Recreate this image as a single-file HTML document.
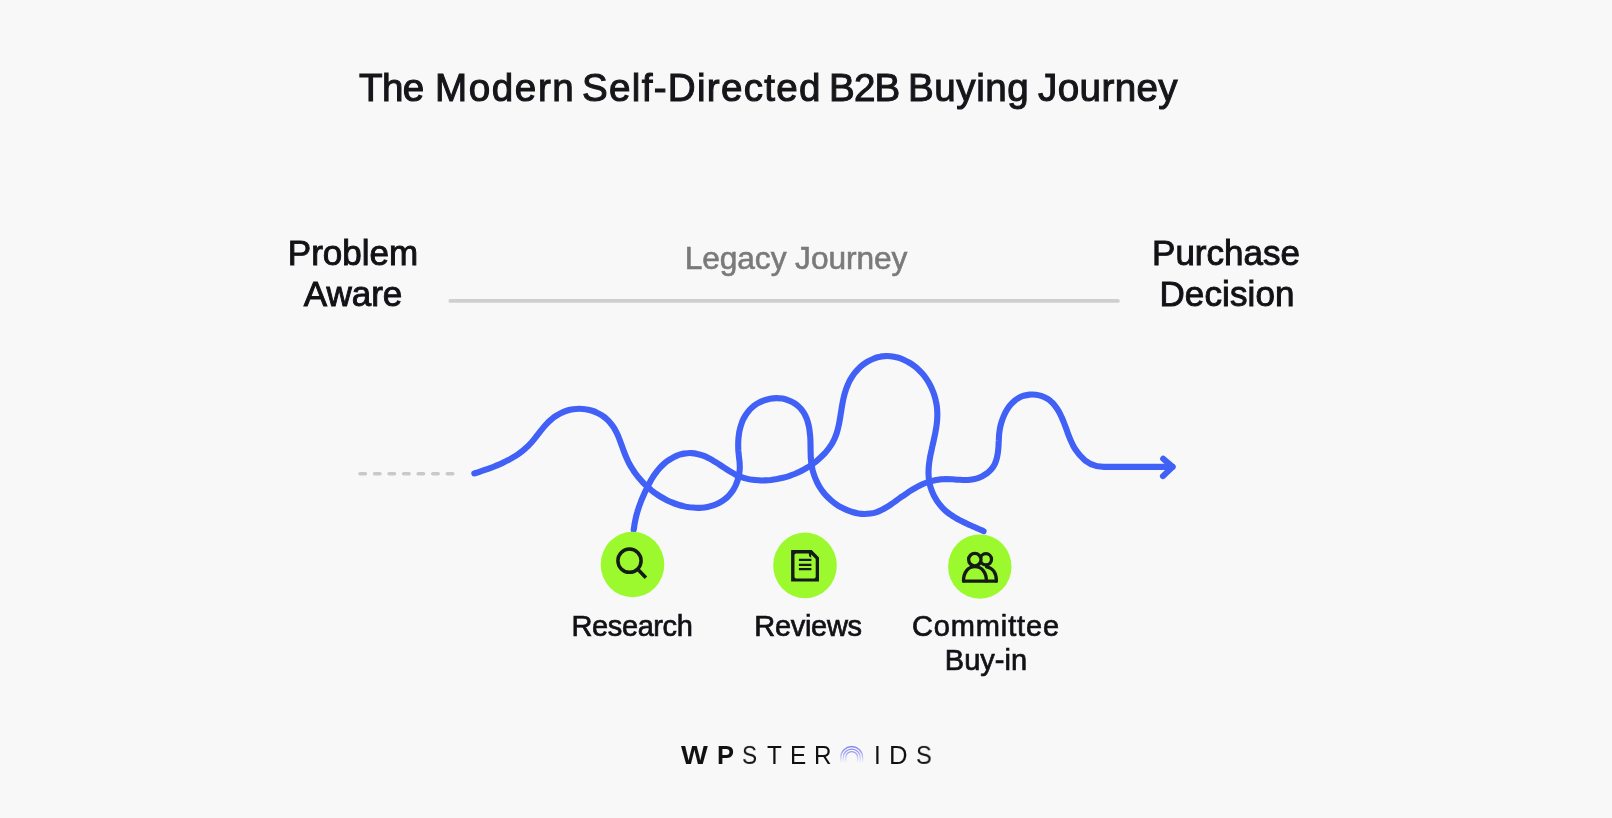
<!DOCTYPE html>
<html><head><meta charset="utf-8"><title>The Modern Self-Directed B2B Buying Journey</title>
<style>
*{margin:0;padding:0;box-sizing:border-box}
html,body{width:1612px;height:818px;overflow:hidden;background:#f8f8f9}
body{position:relative;font-family:"Liberation Sans",sans-serif;color:#121216}
.t{position:absolute;white-space:nowrap;line-height:1;will-change:transform}
.c{text-align:center;transform:translateX(-50%)}
.tw{top:69px;font-size:38.6px;-webkit-text-stroke:1.05px #15151a;color:#15151a}
.big{font-size:35px;-webkit-text-stroke:0.95px #121216}
.lab{font-size:29px;-webkit-text-stroke:0.7px #121216}
#legacy{font-size:31.7px;color:#7a7a7a;-webkit-text-stroke:0.6px #7a7a7a}
svg{position:absolute;left:0;top:0}
.lg{position:absolute;top:742.7px;font-size:24.3px;line-height:1;white-space:nowrap;transform-origin:0 0;color:#111;will-change:transform}
</style></head><body>
<div class="t tw" style="left:359.4px;letter-spacing:-0.60px">The</div>
<div class="t tw" style="left:434.6px;letter-spacing:1.60px">Modern</div>
<div class="t tw" style="left:581.8px;letter-spacing:1.30px">Self-Directed</div>
<div class="t tw" style="left:828.8px;letter-spacing:-0.80px">B2B</div>
<div class="t tw" style="left:908.2px;letter-spacing:0.56px">Buying</div>
<div class="t tw" style="left:1038.2px;letter-spacing:0.40px">Journey</div>


<div class="t c big" style="left:352.5px;top:234.5px">Problem</div>
<div class="t c big" style="left:353.2px;top:276.3px">Aware</div>
<div class="t c big" style="left:1225.6px;top:234.5px">Purchase</div>
<div class="t c big" style="left:1227.4px;top:276.3px;letter-spacing:0.12px">Decision</div>
<div class="t c" id="legacy" style="left:795.6px;top:243.2px;letter-spacing:-0.08px">Legacy Journey</div>

<svg width="1612" height="818" viewBox="0 0 1612 818" fill="none">
 <line x1="450.4" y1="300.9" x2="1117.8" y2="300.9" stroke="#cfcfcf" stroke-width="3.9" stroke-linecap="round"/>
 <line x1="360" y1="473.7" x2="456" y2="473.7" stroke="#c9c9c9" stroke-width="3.6" stroke-linecap="round" stroke-dasharray="5.4 9.15"/>
 <g stroke="#4060f6" stroke-width="6.1" stroke-linecap="round" stroke-linejoin="round">
  <path d="M633.7 529.9C633.9 528.9 634.3 525.8 634.6 523.8C635.0 521.8 635.4 519.8 635.8 517.8C636.3 515.8 636.8 513.9 637.4 511.9C637.9 510.0 638.6 508.1 639.2 506.2C639.9 504.3 640.6 502.4 641.3 500.5C642.1 498.6 642.9 496.7 643.7 494.9C644.5 493.0 645.4 491.1 646.3 489.3C647.2 487.4 648.1 485.6 649.1 483.8C650.1 482.0 651.0 480.1 652.1 478.4C653.2 476.6 654.3 474.9 655.6 473.2C656.8 471.5 658.1 469.9 659.5 468.3C660.8 466.8 662.3 465.3 663.9 463.9C665.4 462.6 667.1 461.3 668.8 460.1C670.5 459.0 672.3 457.9 674.1 457.0C675.9 456.1 677.7 455.3 679.6 454.7C681.5 454.1 683.5 453.6 685.4 453.4C687.4 453.1 689.4 453.0 691.4 453.1C693.4 453.2 695.4 453.5 697.3 454.0C699.3 454.4 701.3 455.0 703.2 455.7C705.1 456.4 707.0 457.3 708.8 458.2C710.6 459.2 712.4 460.2 714.2 461.3C716.0 462.3 717.7 463.5 719.5 464.6C721.2 465.7 722.9 466.9 724.7 468.0C726.4 469.2 728.1 470.3 729.9 471.4C731.7 472.4 733.4 473.4 735.2 474.4C737.1 475.3 738.9 476.1 740.8 476.8C742.7 477.5 744.6 478.1 746.6 478.6C748.5 479.1 750.5 479.5 752.6 479.8C754.6 480.1 756.6 480.2 758.6 480.3C760.7 480.5 762.7 480.5 764.8 480.4C766.8 480.3 768.9 480.2 770.9 480.0C773.0 479.7 775.0 479.4 777.0 479.1C779.0 478.7 781.0 478.3 783.0 477.8C785.0 477.3 787.0 476.7 788.9 476.1C790.8 475.4 792.8 474.7 794.6 474.0C796.5 473.2 798.4 472.4 800.2 471.5C802.1 470.5 803.9 469.6 805.6 468.5C807.4 467.5 809.2 466.4 810.9 465.3C812.6 464.1 814.2 462.9 815.9 461.6C817.5 460.3 819.0 459.0 820.5 457.6C822.0 456.2 823.5 454.7 824.9 453.2C826.2 451.7 827.5 450.1 828.7 448.5C829.9 446.9 831.1 445.2 832.1 443.5C833.1 441.7 834.0 440.0 834.8 438.1C835.6 436.3 836.3 434.4 836.9 432.5C837.5 430.6 838.0 428.7 838.4 426.7C838.9 424.8 839.3 422.8 839.6 420.7C840.0 418.7 840.3 416.7 840.6 414.7C841.0 412.6 841.3 410.6 841.6 408.5C841.9 406.5 842.3 404.4 842.7 402.4C843.0 400.3 843.5 398.3 844.0 396.3C844.5 394.3 845.0 392.3 845.7 390.4C846.3 388.4 847.0 386.5 847.9 384.6C848.7 382.7 849.6 380.9 850.6 379.1C851.6 377.4 852.7 375.7 853.9 374.0C855.1 372.4 856.5 370.8 857.9 369.3C859.3 367.9 860.8 366.5 862.4 365.2C864.0 363.9 865.7 362.8 867.5 361.7C869.2 360.7 871.0 359.7 872.9 359.0C874.8 358.2 876.7 357.5 878.6 357.1C880.6 356.6 882.6 356.2 884.6 356.1C886.6 355.9 888.6 356.0 890.6 356.2C892.6 356.4 894.7 356.7 896.6 357.3C898.6 357.8 900.6 358.4 902.5 359.2C904.5 360.0 906.3 360.9 908.1 362.0C909.9 363.0 911.7 364.1 913.3 365.3C915.0 366.5 916.6 367.8 918.1 369.2C919.6 370.6 921.0 372.1 922.3 373.6C923.6 375.1 924.9 376.7 926.1 378.4C927.2 380.1 928.3 381.8 929.3 383.6C930.3 385.3 931.2 387.2 932.0 389.1C932.8 390.9 933.6 392.8 934.2 394.8C934.8 396.7 935.4 398.7 935.8 400.7C936.3 402.7 936.6 404.7 936.9 406.7C937.1 408.7 937.3 410.8 937.3 412.8C937.4 414.8 937.3 416.9 937.2 418.9C937.1 421.0 936.9 423.0 936.6 425.0C936.4 427.1 936.0 429.1 935.6 431.1C935.3 433.2 934.8 435.2 934.4 437.2C934.0 439.2 933.5 441.3 933.1 443.3C932.6 445.3 932.1 447.3 931.7 449.4C931.2 451.4 930.8 453.4 930.4 455.4C930.0 457.4 929.7 459.4 929.4 461.4C929.1 463.4 928.9 465.4 928.7 467.4C928.6 469.4 928.5 471.4 928.5 473.4C928.6 475.3 928.7 477.3 928.9 479.3C929.2 481.3 929.5 483.2 930.0 485.2C930.5 487.1 931.1 489.1 931.9 491.0C932.6 492.9 933.5 494.8 934.4 496.6C935.4 498.4 936.5 500.2 937.7 501.9C938.8 503.6 940.1 505.2 941.5 506.7C942.9 508.3 944.3 509.7 945.9 511.1C947.4 512.4 949.1 513.7 950.8 514.8C952.4 516.0 954.2 517.1 956.0 518.1C957.8 519.2 959.6 520.1 961.4 521.1C963.3 522.0 965.1 522.9 967.0 523.7C968.8 524.6 970.7 525.4 972.6 526.3C974.5 527.1 976.3 527.9 978.2 528.7C980.0 529.5 982.7 530.8 983.6 531.2"/>
  <path d="M474.3 473.4C475.3 473.1 478.1 472.3 480.0 471.6C481.9 471.0 483.8 470.4 485.7 469.7C487.6 469.1 489.5 468.4 491.4 467.7C493.3 466.9 495.2 466.2 497.0 465.4C498.9 464.6 500.8 463.8 502.6 462.9C504.4 462.1 506.3 461.2 508.0 460.2C509.8 459.3 511.6 458.3 513.3 457.2C515.0 456.2 516.7 455.1 518.4 453.9C520.0 452.8 521.6 451.6 523.2 450.3C524.7 449.1 526.2 447.8 527.6 446.4C529.1 445.0 530.4 443.6 531.8 442.1C533.1 440.6 534.3 439.0 535.6 437.4C536.8 435.8 538.0 434.2 539.3 432.6C540.5 431.0 541.8 429.4 543.1 427.8C544.4 426.2 545.7 424.7 547.1 423.3C548.5 421.8 550.0 420.4 551.6 419.2C553.1 417.9 554.7 416.7 556.4 415.6C558.1 414.5 559.9 413.5 561.7 412.7C563.5 411.8 565.4 411.1 567.3 410.5C569.2 409.9 571.2 409.5 573.2 409.2C575.2 409.0 577.3 408.8 579.3 408.8C581.3 408.8 583.4 409.0 585.4 409.3C587.4 409.5 589.4 410.0 591.3 410.5C593.3 411.1 595.2 411.8 597.0 412.7C598.8 413.5 600.6 414.5 602.2 415.6C603.9 416.7 605.5 418.0 606.9 419.3C608.4 420.7 609.8 422.2 611.0 423.8C612.3 425.3 613.4 427.0 614.5 428.7C615.5 430.5 616.5 432.3 617.3 434.1C618.2 435.9 618.9 437.8 619.6 439.7C620.4 441.6 621.0 443.5 621.7 445.4C622.4 447.3 623.0 449.2 623.8 451.1C624.5 453.0 625.2 454.8 626.0 456.7C626.7 458.5 627.6 460.4 628.5 462.2C629.4 463.9 630.4 465.7 631.4 467.4C632.5 469.1 633.6 470.8 634.7 472.5C635.9 474.1 637.1 475.7 638.4 477.3C639.7 478.8 641.0 480.3 642.4 481.8C643.8 483.3 645.2 484.7 646.7 486.1C648.2 487.5 649.7 488.8 651.2 490.1C652.8 491.3 654.4 492.6 656.1 493.7C657.7 494.9 659.4 496.0 661.1 497.0C662.8 498.0 664.6 499.0 666.4 499.9C668.2 500.8 670.0 501.7 671.9 502.4C673.7 503.2 675.6 503.9 677.5 504.5C679.5 505.1 681.4 505.7 683.4 506.1C685.4 506.6 687.4 507.0 689.4 507.3C691.4 507.5 693.5 507.7 695.5 507.8C697.5 507.9 699.6 507.9 701.6 507.7C703.6 507.6 705.6 507.3 707.5 506.9C709.5 506.5 711.5 506.0 713.3 505.4C715.2 504.7 717.1 503.9 718.9 503.0C720.7 502.1 722.4 501.0 724.1 499.8C725.7 498.6 727.2 497.3 728.6 495.8C730.0 494.4 731.3 492.8 732.5 491.1C733.6 489.4 734.6 487.6 735.5 485.7C736.3 483.9 737.1 481.9 737.7 480.0C738.3 478.0 738.8 476.0 739.1 474.0C739.5 472.1 739.7 470.1 739.8 468.1C739.8 466.1 739.7 464.1 739.6 462.2C739.4 460.2 739.1 458.2 738.9 456.3C738.7 454.3 738.5 452.3 738.3 450.2C738.2 448.2 738.2 446.1 738.2 444.1C738.2 442.0 738.3 440.0 738.5 437.9C738.7 435.9 739.0 433.8 739.3 431.8C739.7 429.8 740.2 427.9 740.8 425.9C741.4 424.0 742.0 422.1 742.8 420.3C743.6 418.5 744.6 416.8 745.6 415.1C746.6 413.5 747.8 411.9 749.1 410.4C750.4 408.9 751.9 407.6 753.4 406.3C755.0 405.1 756.7 403.9 758.5 402.9C760.3 401.9 762.2 401.1 764.1 400.4C766.1 399.7 768.1 399.1 770.1 398.7C772.2 398.3 774.3 398.1 776.3 398.1C778.4 398.1 780.4 398.3 782.5 398.6C784.5 399.0 786.5 399.6 788.4 400.3C790.2 401.0 792.1 401.9 793.8 402.9C795.5 404.0 797.1 405.2 798.6 406.5C800.1 407.8 801.4 409.3 802.5 410.9C803.7 412.4 804.7 414.2 805.5 416.0C806.4 417.7 807.1 419.6 807.7 421.6C808.2 423.5 808.7 425.5 809.1 427.5C809.5 429.6 809.7 431.6 809.9 433.7C810.2 435.7 810.3 437.8 810.4 439.8C810.5 441.9 810.5 443.9 810.5 445.9C810.6 447.9 810.6 449.9 810.6 451.9C810.7 453.9 810.7 455.9 810.8 457.9C811.0 459.9 811.1 461.8 811.4 463.8C811.7 465.8 812.1 467.8 812.5 469.7C813.0 471.7 813.6 473.6 814.3 475.6C814.9 477.5 815.7 479.4 816.6 481.2C817.4 483.1 818.4 484.9 819.4 486.6C820.5 488.3 821.6 490.0 822.8 491.6C824.0 493.2 825.3 494.7 826.7 496.2C828.0 497.6 829.5 499.0 831.0 500.3C832.5 501.6 834.1 502.9 835.7 504.0C837.4 505.2 839.1 506.3 840.9 507.2C842.7 508.2 844.6 509.1 846.5 509.9C848.4 510.7 850.4 511.5 852.3 512.0C854.3 512.6 856.3 513.1 858.4 513.4C860.4 513.7 862.4 513.9 864.4 514.0C866.4 514.0 868.4 513.9 870.3 513.6C872.2 513.3 874.1 512.9 876.0 512.3C877.9 511.7 879.7 510.9 881.5 510.0C883.3 509.2 885.0 508.2 886.7 507.1C888.5 506.1 890.2 505.0 891.9 503.8C893.6 502.7 895.2 501.4 896.9 500.2C898.6 499.0 900.2 497.8 901.9 496.6C903.6 495.5 905.2 494.3 906.9 493.2C908.6 492.0 910.2 490.9 911.9 489.9C913.6 488.8 915.3 487.8 917.1 486.9C918.8 486.0 920.6 485.1 922.4 484.3C924.2 483.5 926.1 482.7 928.0 482.1C929.9 481.5 931.9 480.9 933.8 480.5C935.8 480.0 937.8 479.7 939.8 479.4C941.9 479.2 943.9 479.1 946.0 479.0C948.0 479.0 950.0 479.1 952.1 479.2C954.1 479.3 956.1 479.6 958.2 479.7C960.2 479.8 962.2 480.0 964.2 480.0C966.2 480.0 968.3 480.0 970.2 479.7C972.2 479.5 974.2 479.2 976.2 478.6C978.1 478.1 980.0 477.3 981.8 476.5C983.6 475.6 985.4 474.5 987.0 473.3C988.5 472.1 990.0 470.8 991.3 469.3C992.6 467.8 993.7 466.1 994.6 464.3C995.5 462.5 996.2 460.5 996.7 458.6C997.2 456.6 997.6 454.5 997.9 452.5C998.2 450.4 998.3 448.4 998.5 446.4C998.6 444.4 998.6 442.4 998.8 440.5C998.9 438.5 998.9 436.5 999.1 434.5C999.3 432.6 999.6 430.6 999.9 428.6C1000.3 426.6 1000.8 424.5 1001.4 422.5C1002.0 420.5 1002.7 418.5 1003.5 416.6C1004.3 414.7 1005.2 412.8 1006.2 411.0C1007.2 409.2 1008.4 407.5 1009.6 405.9C1010.8 404.4 1012.2 402.9 1013.7 401.6C1015.1 400.3 1016.7 399.1 1018.4 398.1C1020.0 397.1 1021.9 396.3 1023.7 395.7C1025.6 395.2 1027.7 394.8 1029.7 394.6C1031.7 394.5 1033.8 394.5 1035.9 394.7C1037.9 395.0 1040.0 395.4 1041.9 396.1C1043.8 396.7 1045.6 397.6 1047.3 398.6C1049.0 399.6 1050.5 400.9 1051.9 402.3C1053.3 403.6 1054.6 405.2 1055.8 406.8C1057.0 408.4 1058.1 410.2 1059.1 412.0C1060.1 413.8 1061.0 415.7 1061.8 417.6C1062.7 419.5 1063.5 421.4 1064.2 423.3C1065.0 425.3 1065.7 427.2 1066.4 429.1C1067.1 431.0 1067.7 432.9 1068.4 434.8C1069.2 436.7 1069.9 438.5 1070.7 440.4C1071.5 442.2 1072.3 444.0 1073.2 445.7C1074.1 447.4 1075.1 449.1 1076.3 450.7C1077.4 452.4 1079.4 454.7 1080.0 455.4C1085.7 462.5 1093.5 466.9 1104.0 466.9H1172.4"/>
  <path d="M1163.2 458.8 L1172.6 466.9 L1163 476.1"/>
 </g>
 <!-- circles -->
 <ellipse cx="632.5" cy="564.5" rx="31.8" ry="32.8" fill="#9cf92e"/>
 <ellipse cx="805" cy="565.4" rx="31.8" ry="32.9" fill="#9cf92e"/>
 <ellipse cx="979.8" cy="566.6" rx="31.7" ry="32.2" fill="#9cf92e"/>
 <!-- magnifier -->
 <g stroke="#131c17" stroke-width="3.5">
  <circle cx="629.5" cy="560.7" r="11.6"/>
  <path d="M637.8 569.2 L645.9 577.8"/>
 </g>
 <!-- document -->
 <path fill="#131c17" fill-rule="evenodd" d="M791.6 550.1 H811.7 L819 557.5 V581.1 Q819 581.6 818.5 581.6 H791.6 Q791.1 581.6 791.1 581.1 V550.6 Q791.1 550.1 791.6 550.1 Z M796.1 553.4 Q794.5 553.4 794.5 555 V576.8 Q794.5 578.4 796.1 578.4 H814.1 Q815.7 578.4 815.7 576.8 V559 L810.2 553.4 Z"/>
 <path fill="#131c17" d="M808.9 553 H811.2 V557.6 Q808.9 557.2 808.9 555 Z"/>
 <path stroke="#131c17" stroke-width="2.3" d="M798.9 559.9 H811.4 M798.9 564.8 H811.4 M798.9 569.2 H811.4"/>
 <!-- people -->
 <g stroke="#131c17" stroke-width="3.3" stroke-linejoin="round" stroke-linecap="round">
  <circle cx="985.9" cy="559.3" r="5.6"/>
  <circle cx="974.8" cy="559.6" r="6.2" fill="#9cf92e"/>
  <path d="M986.5 566.8 C992.8 567.6 996.4 573.2 996.4 581.1"/>
  <path d="M963.5 581.1 C963.5 572.3 968 566.7 974.9 566.7 C981.8 566.7 986.4 572.3 986.4 581.1"/>
  <path d="M963.5 581.1 H996.4"/>
 </g>
 <!-- logo arcs -->
 <defs><linearGradient id="fade" x1="0" y1="745" x2="0" y2="765" gradientUnits="userSpaceOnUse">
  <stop offset="0" stop-color="#7173ef" stop-opacity="1"/><stop offset="0.45" stop-color="#8587f2" stop-opacity="0.7"/><stop offset="0.9" stop-color="#9a9cf5" stop-opacity="0"/></linearGradient></defs>
 <g stroke="url(#fade)" stroke-width="1.25">
  <path d="M840.8 764 V757.4 A10.9 10.9 0 0 1 862.6 757.4 V764"/>
  <path d="M843.3 764 V757.4 A8.4 8.4 0 0 1 860.1 757.4 V764"/>
  <path d="M845.8 764 V757.4 A5.9 5.9 0 0 1 857.6 757.4 V764"/>
 </g>
</svg>

<div class="t c lab" style="left:632.2px;top:611.8px;letter-spacing:-0.4px">Research</div>
<div class="t c lab" style="left:807.6px;top:611.8px;letter-spacing:-0.3px">Reviews</div>
<div class="t c lab" style="left:986.4px;top:611.8px;letter-spacing:0.85px">Committee</div>
<div class="t c lab" style="left:986.3px;top:646.1px;letter-spacing:0.05px">Buy-in</div>

<span class="lg" style="left:680.5px;font-weight:bold;transform:scale(1.17,1.05)">W</span>
<span class="lg" style="left:716.6px;font-weight:bold;transform:scale(1.05,1.05)">P</span>
<span class="lg" style="left:742.2px;transform:scale(0.93,1.05)">S</span>
<span class="lg" style="left:766.6px;transform:scale(1.00,1.05)">T</span>
<span class="lg" style="left:790.1px;transform:scale(1.00,1.05)">E</span>
<span class="lg" style="left:814.1px;transform:scale(1.00,1.05)">R</span>
<span class="lg" style="left:873.7px;transform:scale(1.00,1.05)">I</span>
<span class="lg" style="left:888.5px;transform:scale(1.06,1.05)">D</span>
<span class="lg" style="left:915.9px;transform:scale(0.97,1.05)">S</span>
</body></html>
